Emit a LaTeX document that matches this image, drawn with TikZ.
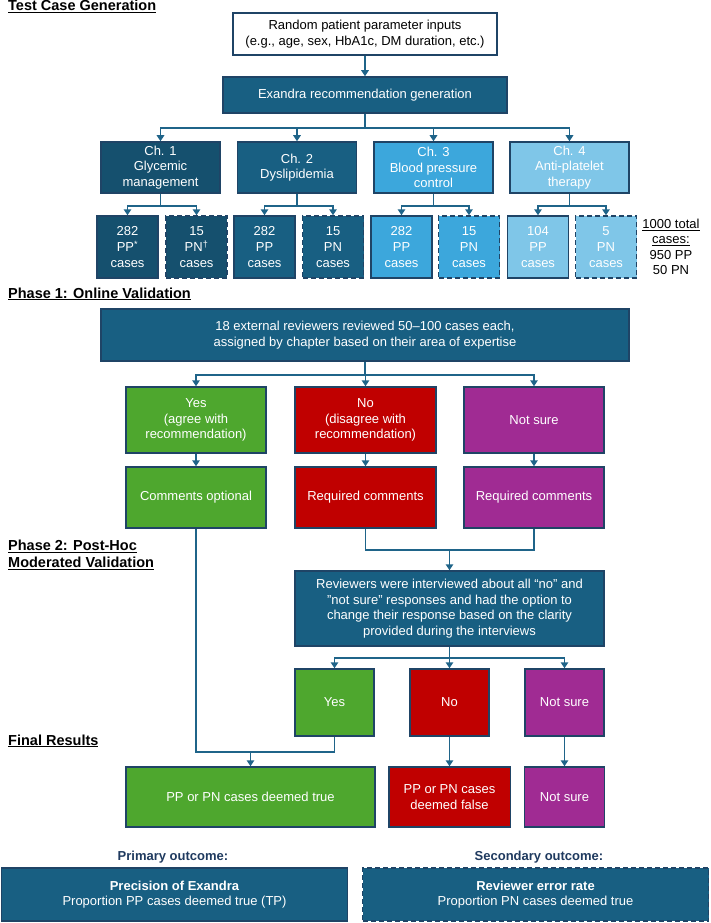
\documentclass[tikz,border=0pt]{standalone}
\usepackage{fontspec}
\setmainfont{Liberation Sans}
\usepackage{xcolor}
\usetikzlibrary{arrows.meta}
\definecolor{bordblue}{HTML}{1F4466}
\definecolor{linkblue}{HTML}{1F6489}
\definecolor{exteal}{HTML}{185F82}
\definecolor{chone}{HTML}{15506E}
\definecolor{chthree}{HTML}{3CA7DC}
\definecolor{chfour}{HTML}{7FC6E8}
\definecolor{yesgreen}{HTML}{4EA72E}
\definecolor{nored}{HTML}{C00000}
\definecolor{unsure}{HTML}{A02B93}
\definecolor{outnavy}{HTML}{1F3A5F}

\begin{document}
\begin{tikzpicture}[x=1pt,y=-1pt,
    box/.style={draw=bordblue,line width=1.5pt,text=white,align=center,inner sep=0pt,font=\fontsize{13}{15.7}\selectfont},
    pnbox/.style={box,dash pattern=on 5pt off 3pt},
    conn/.style={draw=linkblue,line width=1.7pt},
    arr/.style={conn,-{Triangle[width=7.5pt,length=6pt]}},
    head/.style={font=\fontsize{14.5}{17}\selectfont\bfseries,align=left,inner sep=0pt}]
        \useasboundingbox (0,0) rectangle (710,923);
        \node[head,anchor=base west] (tgen) at (8,10.5) {\underline{Test Case Generation}};
        \node[box,fill=white,text=black,minimum width=264,minimum height=42] (inp) at (365,34) {Random patient parameter inputs\\(e.g., age, sex, HbA1c, DM duration, etc.)};
        \node[box,fill=exteal,minimum width=284,minimum height=36] (exa) at (365,95) {Exandra recommendation generation};
        \draw[arr] (inp) -- (exa);
        \foreach \nm/\x/\col/\txt in {ch1/160.5/chone/{Ch. 1\\Glycemic\\management},ch2/297/exteal/{Ch. 2\\Dyslipidemia},ch3/433.5/chthree/{Ch. 3\\Blood pressure\\control},ch4/569.5/chfour/{Ch. 4\\Anti-platelet\\therapy}}{
            \node[box,fill=\col,minimum width=119,minimum height=51] (\nm) at (\x,167.5) {\txt};
            \draw[arr] (exa.south) -- ++(0,14) -| (\nm.north);
        }
        \foreach \nm/\up/\x/\col/\num/\lab/\st in {pp1/ch1/127.5/chone/282/PP\textsuperscript{*}/box,pn1/ch1/196.5/chone/15/PN\textsuperscript{†}/pnbox,pp2/ch2/264.5/exteal/282/PP/box,pn2/ch2/333/exteal/15/PN/pnbox,pp3/ch3/401.5/chthree/282/PP/box,pn3/ch3/469/chthree/15/PN/pnbox,pp4/ch4/538/chfour/104/PP/box,pn4/ch4/606/chfour/5/PN/pnbox}{
            \node[\st,fill=\col,minimum width=61,minimum height=62] (\nm) at (\x,247) {\num\\\lab\\cases};
            \draw[arr] (\up.south) -- ++(0,12) -| (\nm.north);
        }
        \node[align=center,inner sep=0pt,font=\fontsize{13}{15.5}\selectfont] (tot) at (671,247) {\underline{1000 total}\\\underline{cases:}\\950 PP\\50 PN};

        \node[head,anchor=base west] (ph1) at (8,298) {\underline{Phase 1: Online Validation}};
        \node[box,fill=exteal,minimum width=528,minimum height=52] (rev1) at (365,335) {18 external reviewers reviewed 50–100 cases each,\\assigned by chapter based on their area of expertise};
        \node[box,fill=yesgreen,minimum width=140,minimum height=66] (yes1) at (196,420) {Yes\\(agree with\\recommendation)};
        \node[box,fill=nored,minimum width=141,minimum height=66] (no1) at (365.5,420) {No\\(disagree with\\recommendation)};
        \node[box,fill=unsure,minimum width=140,minimum height=66] (ns1) at (534,420) {Not sure};
        \node[box,fill=yesgreen,minimum width=140,minimum height=61] (com1) at (196,497.5) {Comments optional};
        \node[box,fill=nored,minimum width=141,minimum height=61] (com2) at (365.5,497.5) {Required comments};
        \node[box,fill=unsure,minimum width=140,minimum height=61] (com3) at (534,497.5) {Required comments};
        \foreach \a/\b in {yes1/com1,no1/com2,ns1/com3}{
            \draw[arr] (rev1.south) -- ++(0,13) -| (\a.north);
            \draw[arr] (\a) -- (\b);
        }

        \node[head,anchor=west] (ph2) at (8,555) {\underline{Phase 2: Post-Hoc}\\\underline{Moderated Validation}};
        \node[box,fill=exteal,minimum width=309,minimum height=75] (rev2) at (449.5,608.5) {Reviewers were interviewed about all “no” and\\"not sure" responses and had the option to\\change their response based on the clarity\\provided during the interviews};
        \coordinate (j1) at (449.5,550);
        \draw[conn] (com2.south) |- (j1) -| (com3.south);
        \draw[arr] (j1) -- (rev2.north);
        \node[box,fill=yesgreen,minimum width=79,minimum height=67] (yes2) at (334.5,702.5) {Yes};
        \node[box,fill=nored,minimum width=79,minimum height=67] (no2) at (449.5,702.5) {No};
        \node[box,fill=unsure,minimum width=79,minimum height=67] (ns2) at (564.5,702.5) {Not sure};
        \foreach \b in {yes2,no2,ns2}
            \draw[arr] (rev2.south) -- ++(0,11) -| (\b.north);

        \node[head,anchor=base west] (fin) at (8,745) {\underline{Final Results}};
        \node[box,fill=yesgreen,minimum width=249,minimum height=60] (true) at (250.5,797) {PP or PN cases deemed true};
        \node[box,fill=nored,minimum width=121.5,minimum height=60] (false) at (449.5,797) {PP or PN cases\\deemed false};
        \node[box,fill=unsure,minimum width=80,minimum height=60] (ns3) at (564.5,797) {Not sure};
        \coordinate (j2) at (250.5,752);
        \draw[conn] (com1.south) |- (j2) -| (yes2.south);
        \draw[arr] (j2) -- (true.north);
        \draw[arr] (no2) -- (false);
        \draw[arr] (ns2) -- (ns3);

        \node[font=\fontsize{13}{15}\selectfont\bfseries,text=outnavy] (poh) at (173,857) {Primary outcome:};
        \node[font=\fontsize{13}{15}\selectfont\bfseries,text=outnavy] (soh) at (539,857) {Secondary outcome:};
        \node[box,fill=exteal,minimum width=346,minimum height=53] (prim) at (174.5,894.5) {\textbf{Precision of Exandra}\\Proportion PP cases deemed true (TP)};
        \node[pnbox,fill=exteal,minimum width=346,minimum height=53] (sec) at (535.5,894.5) {\textbf{Reviewer error rate}\\Proportion PN cases deemed true};
    \end{tikzpicture}
\end{document}
